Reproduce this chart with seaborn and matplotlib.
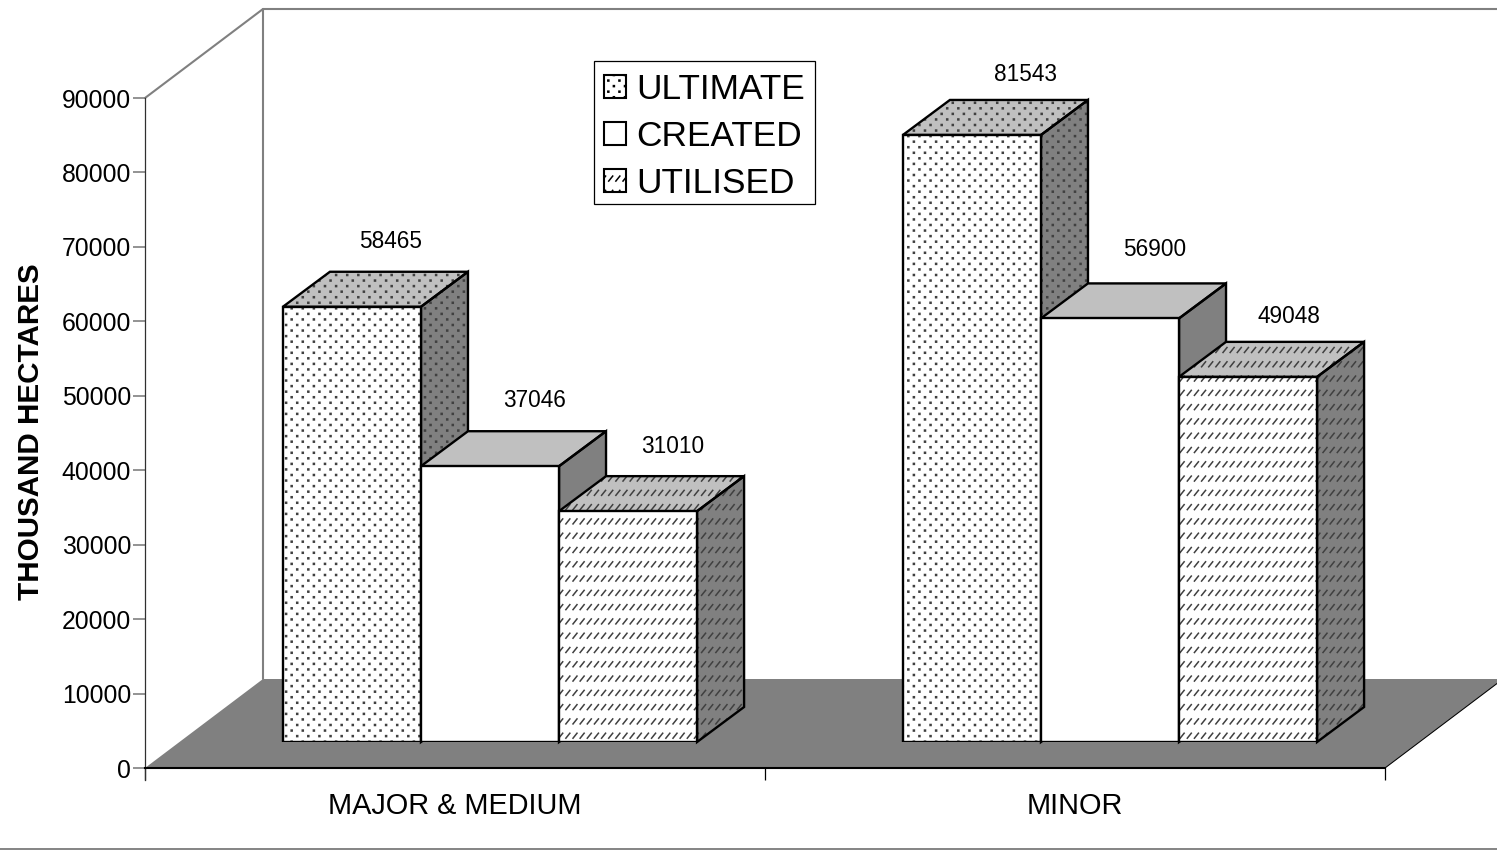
import matplotlib
matplotlib.use("Agg")
import matplotlib.pyplot as plt
import matplotlib.hatch as mhatch
from matplotlib.lines import Line2D
from matplotlib.patches import Patch, Rectangle
from matplotlib.path import Path
import numpy as np
import pandas as pd
import seaborn as sns

categories = ["MAJOR & MEDIUM", "MINOR"]
series = ["ULTIMATE", "CREATED", "UTILISED"]
ultimate = [58465, 81543]
created = [37046, 56900]
utilised = [31010, 49048]
y_ticks = [0, 10000, 20000, 30000, 40000, 50000, 60000, 70000, 80000, 90000]

# label nudges in pixels, from the centre of each bar's front face
label_dx = [39, 45, 45, 54, 45, 41]
label_dy = [65, 66, 65, 60, 69, 60]

W, H = 1497, 851
HATCH_GREY = "#404040"


# short slashes in spaced rows, matplotlib has no such hatch
class ShortSlashes(mhatch.HatchPatternBase):
    rows = 7
    cols = 14

    def __init__(self, hatch, density):
        self.num_vertices = 2 * self.rows * self.cols if "z" in hatch else 0

    def set_vertices_and_codes(self, vertices, codes):
        w = 0.04
        h = 0.05
        xs = (np.arange(self.cols) + 0.5) / self.cols
        ys = (np.arange(self.rows) + 0.5) / self.rows
        i = 0
        for y in ys:
            for x in xs:
                vertices[i] = (x - w / 2, y - h / 2)
                vertices[i + 1] = (x + w / 2, y + h / 2)
                codes[i] = Path.MOVETO
                codes[i + 1] = Path.LINETO
                i += 2


# tiny square dots, staggered, tighter in rows than the stock '.' hatch
class TinyDots(mhatch.HatchPatternBase):
    rows = 18
    cols = 9

    def __init__(self, hatch, density):
        self.num_vertices = 5 * self.rows * self.cols if "k" in hatch else 0

    def set_vertices_and_codes(self, vertices, codes):
        d = 0.005
        i = 0
        for r in range(self.rows):
            shift = 0.5 if r % 2 else 0
            for c in range(self.cols):
                x = (c + shift + 0.25) / self.cols
                y = (r + 0.5) / self.rows
                vertices[i:i + 5] = [(x - d, y - d), (x + d, y - d), (x + d, y + d), (x - d, y + d), (x - d, y - d)]
                codes[i:i + 5] = [Path.MOVETO, Path.LINETO, Path.LINETO, Path.LINETO, Path.CLOSEPOLY]
                i += 5


mhatch._hatch_types.extend([ShortSlashes, TinyDots])


def px_axes(fig, left, bottom, right, top):
    return fig.add_axes([left / W, (H - bottom) / H, (right - left) / W, (bottom - top) / H])


def draw_walls(ax):
    # depth of the back wall and floor, in data units
    dx = 118 / 620
    dy = 89 / 670 * 90000
    x0, x1 = ax.get_xlim()
    y1 = ax.get_ylim()[1]
    ax.fill([x0, x0 + dx, x1 + dx, x1], [0, dy, dy, 0], color="#808080", lw=0, clip_on=False, zorder=1)
    ax.plot([x0, x0 + dx, x1 + dx], [y1, y1 + dy, y1 + dy], color="#808080", lw=1.5, clip_on=False, zorder=1)
    ax.plot([x0 + dx, x0 + dx], [dy, y1 + dy], color="#808080", lw=1.5, clip_on=False, zorder=1)
    ax.plot([x1, x1 + dx], [0, dy], color="black", lw=0.75, clip_on=False, zorder=2)


def face(ax, xs, ys, fc, hatch, z):
    ax.fill(xs, ys, facecolor=fc, edgecolor=HATCH_GREY, hatch=hatch, lw=0, clip_on=False, zorder=z)
    ax.fill(xs, ys, fill=False, edgecolor="black", lw=1.7, clip_on=False, zorder=z + 0.1)


sns.set_theme(style="white")
plt.rcParams["font.family"] = ["Liberation Sans", "DejaVu Sans"]
plt.rcParams["hatch.linewidth"] = 1.1

fig = plt.figure(figsize=(W / 100, H / 100), dpi=100)
fig.add_artist(Line2D([0, 1], [2 / H, 2 / H], color="#707070", lw=1.2))

# axis frame on the front plane
ax = px_axes(fig, 145, 768, 1385, 98)
ax.set_xlim(-0.5, 1.5)
ax.set_ylim(0, 90000)
ax.patch.set_alpha(0)
sns.despine(ax=ax)
ax.spines["left"].set_color("#303030")
ax.spines["left"].set_linewidth(0.9)
ax.spines["bottom"].set_color("black")
ax.spines["bottom"].set_linewidth(1.5)
ax.spines["left"].set_bounds(-1600, 90000)
ax.spines["left"].set_zorder(5)
ax.spines["bottom"].set_zorder(5)
ax.set_yticks(y_ticks)
ax.tick_params(axis="y", length=8.6, width=1.2, color="#808080", pad=1.5, labelsize=17.8, left=True, labelcolor="black")
ax.yaxis.get_major_ticks()[0].tick1line.set_color("black")
ax.set_xticks([0, 1], categories)
ax.set_xticks([-0.5, 0.5, 1.5], minor=True)
ax.tick_params(axis="x", which="major", length=0, pad=17.5, labelsize=20.8, labelcolor="black")
ax.tick_params(axis="x", which="minor", length=8.6, width=0.9, color="black", bottom=True)
ax.set_ylabel("THOUSAND HECTARES", fontsize=21.3, fontweight="bold", color="black", va="center")
ax.yaxis.set_label_coords((31 - 145) / 1240, (768 - 432) / 670)
draw_walls(ax)

# bars stand on the middle of the floor, half a depth in from the front
df = pd.DataFrame({
    "category": categories * 3,
    "series": [s for s in series for _ in categories],
    "value": ultimate + created + utilised,
})
bar_ax = px_axes(fig, 180, 742, 1420, 72)
bar_ax.patch.set_alpha(0)
sns.barplot(data=df, x="category", y="value", hue="series", hue_order=series, order=categories,
            palette=["white"] * 3, saturation=1, width=0.668, gap=0, legend=False, ax=bar_ax)
bar_ax.set_xlim(-0.5, 1.5)
bar_ax.set_ylim(0, 90000)
bar_ax.axis("off")

hatches = ["k", "", "z"]
depth_x = 47 / 620
depth_y = 35 / 670 * 90000
bars = sorted(bar_ax.patches, key=lambda b: b.get_x())
values = [ultimate[0], created[0], utilised[0], ultimate[1], created[1], utilised[1]]
for i, bar in enumerate(bars):
    z = 3 + i
    hatch = hatches[i % 3]
    x0 = bar.get_x()
    x1 = x0 + bar.get_width()
    v = bar.get_height()
    face(bar_ax, [x1, x1 + depth_x, x1 + depth_x, x1], [0, depth_y, v + depth_y, v], "#808080", hatch, z)
    face(bar_ax, [x0, x1, x1 + depth_x, x0 + depth_x], [v, v, v + depth_y, v + depth_y], "#c0c0c0", hatch, z)
    bar.set(hatch=hatch, edgecolor=HATCH_GREY, linewidth=0, zorder=z + 0.2)
    bar_ax.add_patch(Rectangle((x0, 0), x1 - x0, v, fill=False, edgecolor="black", lw=1.7, zorder=z + 0.3))
    bar_ax.annotate(str(values[i]), (x0 + (x1 - x0) / 2, v), xytext=(label_dx[i] * 0.72, label_dy[i] * 0.72),
                    textcoords="offset points", ha="center", va="center", fontsize=16.3, color="black",
                    annotation_clip=False, zorder=20)

# legend box drawn by hand, the legend's own frame can't be this tight at the bottom
bar_ax.add_patch(Rectangle((594 / W, (H - 204) / H), 221 / W, 143 / H, transform=fig.transFigure,
                           facecolor="white", edgecolor="black", lw=0.9, zorder=25, clip_on=False))
handles = [Patch(facecolor="white", edgecolor="black", hatch=h, lw=1.5) for h in hatches]
leg = bar_ax.legend(handles, series, loc="upper left", bbox_to_anchor=(604 / W, (H - 73) / H),
                    bbox_transform=fig.transFigure, fontsize=25.4, frameon=False, borderaxespad=0,
                    handlelength=0.63, handleheight=0.63, handletextpad=0.28, labelspacing=0.39,
                    borderpad=0, labelcolor="black")
leg.set_zorder(30)

fig.savefig("out.png", dpi=100)
